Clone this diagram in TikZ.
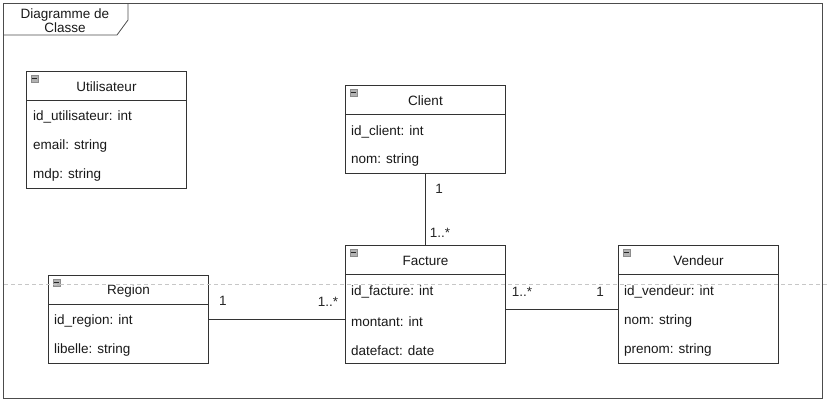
\documentclass[tikz,border=0pt]{standalone}
\usepackage{fontspec}
\setmainfont{Liberation Sans}
\begin{document}
\begin{tikzpicture}[x=1pt,y=-1pt,
  font=\fontsize{13.5}{15}\selectfont,
  frame/.style={draw=black!70, line width=0.8pt},
  classbox/.style={draw=black!80, line width=1pt, fill=white, anchor=north west,
                   inner sep=0pt, minimum width=160pt},
  sepline/.style={draw=black!80, line width=1pt},
  classname/.style={inner sep=0pt, text=black!90, yshift=-1pt},
  attr/.style={anchor=west, inner sep=0pt, text=black!90, yshift=-1.5pt},
  mult/.style={inner sep=0pt, text=black!85},
  assoc/.style={draw=black!80, line width=1pt},
  pagebreak/.style={draw=black!22, line width=0.8pt, dash pattern=on 4pt off 3pt},
  togglebox/.style={fill=black!30, draw=black!45, line width=0.5pt}
]
\useasboundingbox (0,0) rectangle (827,402);

% diagram frame with its name tab
\draw[frame] (3,3) rectangle (822,398);
\draw[frame] (3,35) -- (117,35) -- (128,20) -- (128,3);
\node[align=center, inner sep=0pt, text=black!90] (frametitle) at (65,20.5)
  {Diagramme de\\[-1pt]Classe};

% collapse toggle drawn in the corner of a class header
\newcommand{\classtoggle}[1]{%
  \draw[togglebox] ([xshift=5pt,yshift=-4pt]#1.north west) rectangle ++(7,7);
  \draw[black!85, line width=0.8pt]
    ([xshift=6pt,yshift=-7.5pt]#1.north west) -- ++(5,0);}

% class: box name, x, y, height, title, header height
\newcommand{\umlclass}[6]{%
  \node[classbox, minimum height=#4pt] (#1) at (#2,#3) {};
  \draw[sepline] ([yshift=-#6pt]#1.north west) -- ([yshift=-#6pt]#1.north east);
  \node[classname] (#1-name) at ([yshift=-15pt]#1.north) {#5};
  \classtoggle{#1}}

% Utilisateur
\umlclass{utilisateur}{26}{71}{117}{Utilisateur}{29}
\node[attr] (utilisateur-a1) at (33,115) {id\_utilisateur: int};
\node[attr] (utilisateur-a2) at (33,145) {email: string};
\node[attr] (utilisateur-a3) at (33,174) {mdp: string};

% Client
\umlclass{client}{345}{85}{88}{Client}{29}
\node[attr] (client-a1) at (351,130) {id\_client: int};
\node[attr] (client-a2) at (351,159) {nom: string};

% Facture
\umlclass{facture}{345}{245}{118}{Facture}{29}
\node[attr] (facture-a1) at (351,290) {id\_facture: int};
\node[attr] (facture-a2) at (351,320) {montant: int};
\node[attr] (facture-a3) at (351,349) {datefact: date};

% Region
\umlclass{region}{48}{275}{88}{Region}{29}
\node[attr] (region-a1) at (54,320) {id\_region: int};
\node[attr] (region-a2) at (54,349) {libelle: string};

% Vendeur
\umlclass{vendeur}{618}{245}{118}{Vendeur}{29}
\node[attr] (vendeur-a1) at (624,290) {id\_vendeur: int};
\node[attr] (vendeur-a2) at (624,320) {nom: string};
\node[attr] (vendeur-a3) at (624,349) {prenom: string};

% associations
\draw[assoc] (client.south) -- (facture.north);
\draw[assoc] (region.east) -- (region.east -| facture.west);
\draw[assoc] ([yshift=-5pt]facture.east) -- ([yshift=-5pt]facture.east -| vendeur.west);

% multiplicities
\node[mult] (m-client) at (439,189) {1};
\node[mult] (m-facture-client) at (440,233) {1..*};
\node[mult] (m-region) at (223,301) {1};
\node[mult] (m-facture-region) at (328,302) {1..*};
\node[mult] (m-facture-vendeur) at (522,292) {1..*};
\node[mult] (m-vendeur) at (600,292) {1};

% page break guide
\draw[pagebreak] (4,284) -- (827,284);
\end{tikzpicture}
\end{document}
